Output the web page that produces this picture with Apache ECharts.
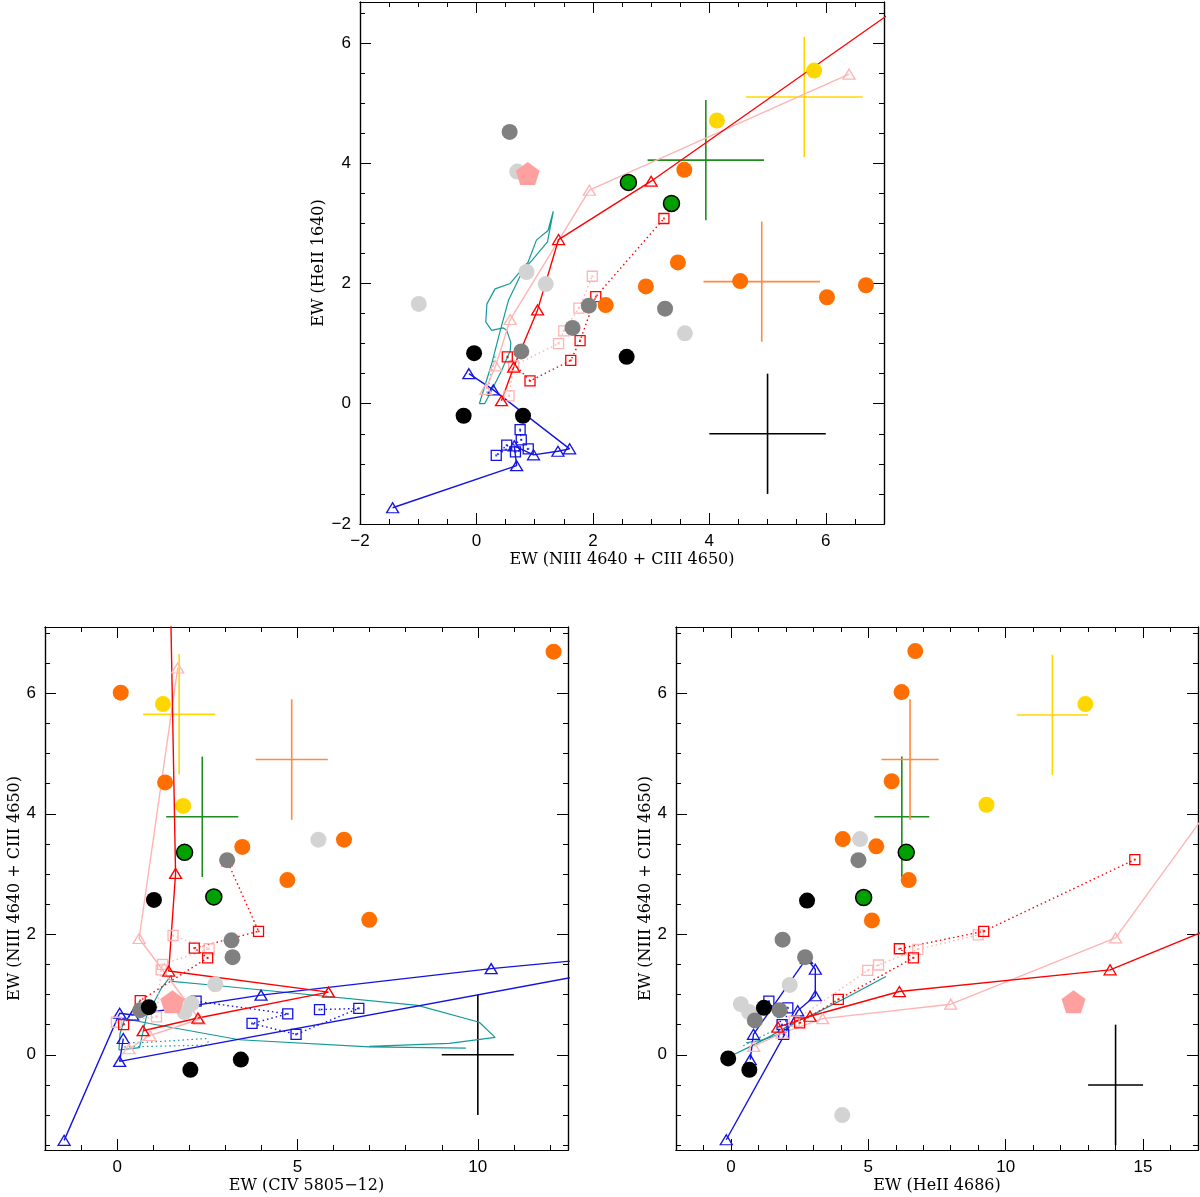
<!DOCTYPE html>
<html>
<head>
<meta charset="utf-8">
<script src="https://cdn.jsdelivr.net/npm/echarts@6/dist/echarts.min.js"></script>
<style>
html, body { margin: 0; padding: 0; background: #fff; }
#chart { width: 1200px; height: 1197px; }
</style>
</head>
<body>
<div id="chart"></div>
<script>
// ---------- top panel: x = EW(NIII 4640 + CIII 4650), y = EW(HeII 1640)
var topBlack = [[-0.04, 0.84], [-0.22, -0.2], [0.8, -0.2], [2.58, 0.78]];
var topDarkGray = [[0.57, 4.52], [0.77, 0.87], [1.65, 1.26], [1.93, 1.63], [3.24, 1.58]];
var topLightGray = [[-0.99, 1.66], [0.86, 2.19], [1.19, 1.99], [3.58, 1.17], [0.7, 3.86]];
var topOrange = [[3.57, 3.89], [3.46, 2.35], [2.91, 1.95], [2.22, 1.64], [4.53, 2.04], [6.02, 1.77], [6.69, 1.97]];
var topYellow = [[5.8, 5.54], [4.13, 4.71]];
var topGreen = [[2.61, 3.68], [3.35, 3.33]];
var topPenta = [[0.88, 3.83]];
// error crosses: [x, y, xerr, yerr]
var topCrossYellow = [5.63, 5.1, 1, 1];
var topCrossGreen = [3.94, 4.05, 1, 1];
var topCrossOrange = [4.9, 2.03, 1, 1];
var topCrossBlack = [5.0, -0.5, 1, 1];
// model tracks
var topRedTri = [[0.43, 0.05], [0.64, 0.61], [1.05, 1.56], [1.41, 2.73], [3.0, 3.7], [8.5, 7.44]];
var topPinkTri = [[0.16, 0.24], [0.33, 0.63], [0.58, 1.4], [1.94, 3.55], [6.4, 5.48]];
var topRedSq = [[0.53, 0.78], [0.92, 0.38], [1.62, 0.72], [1.78, 1.05], [2.05, 1.78], [3.22, 3.08]];
var topPinkSq = [[0.56, 0.13], [0.64, 0.63], [1.41, 1.0], [1.5, 1.21], [1.76, 1.59], [1.99, 2.12]];
var topBlueTri = [[-1.44, -1.73], [0.69, -1.03], [0.65, -0.7], [0.98, -0.85], [1.4, -0.79], [1.6, -0.75], [0.29, 0.23], [-0.13, 0.5]];
var topBlueSq = [[0.89, -0.75], [0.67, -0.8], [0.52, -0.69], [0.34, -0.86], [0.77, -0.6], [0.75, -0.43]];
var topTeal = [[0.05, 0.0], [0.14, 0.0], [0.26, 0.22], [0.43, 0.55], [0.58, 0.88], [0.59, 1.02], [0.52, 1.22],
  [0.46, 1.26], [0.26, 1.22], [0.16, 1.36], [0.18, 1.66], [0.32, 1.91], [0.58, 2.0], [0.89, 2.36], [1.03, 2.72],
  [1.23, 2.88], [1.32, 3.2], [1.22, 2.69], [0.95, 2.38], [0.81, 2.24], [0.55, 1.72], [0.41, 1.22], [0.26, 0.66],
  [0.12, 0.22], [0.05, 0.0]];
var topTealDot = [[0.18, 0.18], [0.32, 0.8]];

// ---------- bottom left: x = EW(CIV 5805-12), y = EW(NIII 4640 + CIII 4650)
var civBlack = [[1.02, 2.57], [0.88, 0.79], [2.03, -0.25], [3.43, -0.08]];
var civDarkGray = [[0.64, 0.74], [3.2, 1.62], [3.17, 1.9], [3.05, 3.23]];
var civLightGray = [[2.72, 1.17], [2.06, 0.85], [1.87, 0.71], [5.58, 3.57]];
var civOrange = [[0.1, 6.01], [12.1, 6.69], [1.33, 4.52], [3.47, 3.45], [6.29, 3.57], [4.72, 2.9], [6.99, 2.24]];
var civYellow = [[1.27, 5.82], [1.83, 4.13]];
var civGreen = [[1.87, 3.36], [2.68, 2.62]];
var civPenta = [[1.53, 0.88]];
var civCrossYellow = [1.72, 5.65, 1, 1];
var civCrossGreen = [2.36, 3.95, 1, 1];
var civCrossOrange = [4.84, 4.9, 1, 1];
var civCrossBlack = [10.0, 0.0, 1, 1];
var civRedTri = [[0.72, 0.4], [2.24, 0.61], [5.86, 1.04], [1.43, 1.39], [1.62, 3.01], [1.45, 8.5]];
var civPinkTri = [[0.33, 0.1], [0.91, 0.32], [2.28, 0.59], [0.61, 1.93], [1.68, 6.42]];
var civRedSq = [[0.18, 0.5], [0.64, 0.9], [2.51, 1.61], [2.14, 1.77], [3.92, 2.05], [3.05, 3.22]];
var civPinkSq = [[-0.02, 0.54], [1.09, 0.63], [1.22, 1.41], [1.26, 1.5], [2.55, 1.76], [1.55, 1.98]];
var civBlueTri = [[-1.47, -1.42], [0.07, 0.69], [0.43, 0.66], [3.99, 0.99], [10.37, 1.43], [17.7, 1.85], [0.07, -0.11], [0.17, 0.27]];
var civBlueSq = [[2.19, 0.89], [4.73, 0.68], [3.74, 0.52], [4.96, 0.34], [6.7, 0.77], [5.61, 0.75]];
var civTeal = [[9.67, 0.11], [6.99, 0.13], [3.39, 0.25], [0.9, 0.52], [0.21, 0.6], [0.08, 0.35], [0.05, 0.08],
  [0.62, 0.12], [0.81, 0.63], [1.22, 1.1], [1.5, 1.32], [1.52, 1.22], [2.75, 1.15], [8.33, 0.82], [10.04, 0.54],
  [10.48, 0.29], [9.21, 0.19], [6.99, 0.14]];
var civTealDot = [[0.2, 0.13], [0.9, 0.14], [2.5, 0.16], [2.52, 0.22], [2.47, 0.27], [0.9, 0.21], [0.3, 0.2]];

// ---------- bottom right: x = EW(HeII 4686), y = EW(NIII 4640 + CIII 4650)
var he2Black = [[2.77, 2.56], [1.2, 0.78], [-0.1, -0.06], [0.67, -0.25]];
var he2DarkGray = [[4.64, 3.23], [1.88, 1.91], [2.7, 1.62], [1.77, 0.74], [0.87, 0.57]];
var he2LightGray = [[4.7, 3.58], [2.14, 1.16], [0.36, 0.84], [0.66, 0.71], [4.05, -1.0]];
var he2Orange = [[6.71, 6.7], [6.21, 6.02], [5.85, 4.54], [4.07, 3.58], [5.29, 3.46], [6.47, 2.9], [5.13, 2.23]];
var he2Yellow = [[12.9, 5.82], [9.3, 4.15]];
var he2Green = [[6.38, 3.36], [4.83, 2.61]];
var he2Penta = [[12.47, 0.88]];
var he2CrossYellow = [11.7, 5.64, 1.3, 1];
var he2CrossOrange = [6.52, 4.9, 1.04, 1];
var he2CrossGreen = [6.22, 3.95, 1, 1];
var he2CrossBlack = [14.0, -0.5, 1, 1];
var he2RedTri = [[1.71, 0.46], [2.88, 0.64], [6.13, 1.05], [13.8, 1.41], [22.3, 3.0]];
var he2PinkTri = [[0.83, 0.14], [1.86, 0.36], [3.34, 0.6], [8.0, 0.84], [14.0, 1.94], [21.1, 6.4]];
var he2RedSq = [[2.5, 0.53], [3.91, 0.92], [6.64, 1.61], [6.13, 1.76], [9.2, 2.05], [14.7, 3.24]];
var he2PinkSq = [[2.3, 0.56], [4.98, 1.4], [5.37, 1.49], [6.8, 1.75], [9.0, 1.99]];
var he2BlueTri = [[-0.17, -1.41], [2.43, 0.73], [3.07, 0.98], [3.07, 1.42], [2.75, 1.6], [0.82, 0.34], [0.7, -0.08]];
var he2BlueSq = [[1.38, 0.89], [1.86, 0.5], [1.92, 0.34], [2.07, 0.78]];
var he2Teal = [[0.12, 0.01], [0.72, 0.14], [1.44, 0.31], [2.28, 0.53], [3.13, 0.7], [4.33, 0.98], [5.64, 1.3]];
var he2TealHook = [[0.55, 0.2], [1.1, 0.24], [1.7, 0.33], [2.3, 0.52]];
var he2TealDot = [[0.45, 0.15], [1.1, 0.3], [1.6, 0.42]];

var COL = {
  red: '#ff0000', pink: '#ffb4b4', blue: '#1414e0', teal: '#169999',
  orange: '#ff6e00', orangeX: '#ff8a40', yellow: '#ffd700', green: '#00a000',
  greenX: '#1e8c1e', dark: '#808080', light: '#d3d3d3', penta: '#ffa0a0', black: '#000000'
};

function ticks(min, max, step) {
  var out = [];
  for (var v = Math.ceil(min / step - 1e-9) * step; v <= max + 1e-9; v += step) {
    out.push(Math.round(v * 1000) / 1000);
  }
  return out;
}
function minus(v) { return v < 0 ? '\u2212' + Math.abs(v) : String(v); }

var grids = [], xAxes = [], yAxes = [], series = [];

// one axis of the frame; index 0 of each group of four carries the name
function axisCfg(gi, pos, s, major, withName) {
  var vals = ticks(s.min, s.max, major ? s.major : s.minor);
  var a = {
    type: 'value', gridIndex: gi, position: pos, min: s.min, max: s.max,
    axisLine: { show: true, onZero: false, lineStyle: { color: '#000', width: 1.2 } },
    axisTick: { show: true, inside: true, length: major ? 11 : 5, customValues: vals,
      lineStyle: { color: '#000', width: 1 } },
    axisLabel: { show: major && (pos === 'bottom' || pos === 'left'), customValues: vals,
      formatter: minus, fontFamily: 'Liberation Sans', fontSize: 17, color: '#000', margin: 9 },
    splitLine: { show: false }
  };
  if (withName) {
    a.name = s.name;
    a.nameLocation = 'middle';
    a.nameGap = s.gap;
    a.nameTextStyle = { fontFamily: 'DejaVu Serif', fontSize: 16, color: '#000' };
  }
  return a;
}

function addPanel(box, xs, ys) {
  var gi = grids.length;
  box.outerBoundsMode = 'none';
  grids.push(box);
  xAxes.push(axisCfg(gi, 'bottom', xs, false, true), axisCfg(gi, 'bottom', xs, true),
    axisCfg(gi, 'top', xs, false), axisCfg(gi, 'top', xs, true));
  yAxes.push(axisCfg(gi, 'left', ys, false, true), axisCfg(gi, 'left', ys, true),
    axisCfg(gi, 'right', ys, false), axisCfg(gi, 'right', ys, true));
  return gi;
}

function dots(gi, data, color, border) {
  series.push({
    type: 'scatter', xAxisIndex: gi * 4, yAxisIndex: gi * 4, data: data, silent: true, z: 5,
    symbol: 'circle', symbolSize: 16,
    itemStyle: { color: color, opacity: 1, borderColor: border || color, borderWidth: border ? 1.5 : 0 }
  });
}
function penta(gi, data) {
  series.push({
    type: 'scatter', xAxisIndex: gi * 4, yAxisIndex: gi * 4, data: data, silent: true, z: 6,
    symbol: 'path://M0,-1L0.951,-0.309L0.588,0.809L-0.588,0.809L-0.951,-0.309Z', symbolSize: [24, 23],
    itemStyle: { color: COL.penta, opacity: 1 }
  });
}
function track(gi, data, color, symbol, dotted, width) {
  series.push({
    type: 'line', xAxisIndex: gi * 4, yAxisIndex: gi * 4, data: data, silent: true, z: 3,
    symbol: symbol || 'none', showSymbol: !!symbol,
    symbolSize: symbol === 'triangle' ? [12, 10] : 10,
    lineStyle: { color: color, width: width || 1.4, type: dotted ? [1.5, 3] : 'solid' },
    itemStyle: { color: 'rgba(0,0,0,0)', borderColor: color, borderWidth: 1.3 }
  });
  if (symbol === 'rect') {
    series.push({
      type: 'scatter', xAxisIndex: gi * 4, yAxisIndex: gi * 4, data: data, silent: true, z: 3,
      symbol: 'rect', symbolSize: 2, itemStyle: { color: color }
    });
  }
}
function cross(gi, c, color) {
  series.push({
    type: 'custom', xAxisIndex: gi * 4, yAxisIndex: gi * 4, data: [c], silent: true, z: 2,
    renderItem: function (params, api) {
      var x = api.value(0), y = api.value(1), ex = api.value(2), ey = api.value(3);
      var l = api.coord([x - ex, y]), r = api.coord([x + ex, y]);
      var b = api.coord([x, y - ey]), t = api.coord([x, y + ey]);
      return { type: 'group', children: [
        { type: 'line', shape: { x1: l[0], y1: l[1], x2: r[0], y2: r[1] }, style: { stroke: color, lineWidth: 1.6 } },
        { type: 'line', shape: { x1: b[0], y1: b[1], x2: t[0], y2: t[1] }, style: { stroke: color, lineWidth: 1.6 } }
      ] };
    }
  });
}

// ---- panels
var niiiAxis = { min: -1.58, max: 7.1, major: 2, minor: 0.5, name: 'EW (NIII 4640 + CIII 4650)', gap: 22 };

var g0 = addPanel({ left: 360, top: 2, width: 524, height: 522 },
  { min: -2, max: 7, major: 2, minor: 0.5, name: 'EW (NIII 4640 + CIII 4650)', gap: 28 },
  { min: -2, max: 6.68, major: 2, minor: 0.5, name: 'EW (HeII 1640)', gap: 33 });
var g1 = addPanel({ left: 45, top: 627, width: 523, height: 523 },
  { min: -2, max: 12.5, major: 5, minor: 1, name: 'EW (CIV 5805\u221212)', gap: 28 }, niiiAxis);
var g2 = addPanel({ left: 676, top: 627, width: 522, height: 523 },
  { min: -2, max: 17, major: 5, minor: 1, name: 'EW (HeII 4686)', gap: 28 }, niiiAxis);

function fillPanel(gi, d) {
  cross(gi, d.cy, COL.yellow);
  cross(gi, d.cg, COL.greenX);
  cross(gi, d.co, COL.orangeX);
  cross(gi, d.cb, COL.black);
  d.teal.forEach(function (t) { track(gi, t, COL.teal, null, false, 1.2); });
  track(gi, d.tealDot, COL.teal, null, true, 1.2);
  track(gi, d.blueSq, COL.blue, 'rect', true);
  track(gi, d.blueTri, COL.blue, 'triangle', false);
  track(gi, d.pinkSq, COL.pink, 'rect', true);
  track(gi, d.pinkTri, COL.pink, 'triangle', false);
  track(gi, d.redSq, COL.red, 'rect', true);
  track(gi, d.redTri, COL.red, 'triangle', false);
  dots(gi, d.light, COL.light);
  dots(gi, d.dark, COL.dark);
  dots(gi, d.black, COL.black);
  dots(gi, d.orange, COL.orange);
  dots(gi, d.yellow, COL.yellow);
  dots(gi, d.green, COL.green, '#000');
  penta(gi, d.penta);
}

fillPanel(g0, { cy: topCrossYellow, cg: topCrossGreen, co: topCrossOrange, cb: topCrossBlack,
  teal: [topTeal], tealDot: topTealDot, blueSq: topBlueSq, blueTri: topBlueTri, pinkSq: topPinkSq,
  pinkTri: topPinkTri, redSq: topRedSq, redTri: topRedTri, light: topLightGray, dark: topDarkGray,
  black: topBlack, orange: topOrange, yellow: topYellow, green: topGreen, penta: topPenta });
fillPanel(g1, { cy: civCrossYellow, cg: civCrossGreen, co: civCrossOrange, cb: civCrossBlack,
  teal: [civTeal], tealDot: civTealDot, blueSq: civBlueSq, blueTri: civBlueTri, pinkSq: civPinkSq,
  pinkTri: civPinkTri, redSq: civRedSq, redTri: civRedTri, light: civLightGray, dark: civDarkGray,
  black: civBlack, orange: civOrange, yellow: civYellow, green: civGreen, penta: civPenta });
fillPanel(g2, { cy: he2CrossYellow, cg: he2CrossGreen, co: he2CrossOrange, cb: he2CrossBlack,
  teal: [he2Teal, he2TealHook], tealDot: he2TealDot, blueSq: he2BlueSq, blueTri: he2BlueTri, pinkSq: he2PinkSq,
  pinkTri: he2PinkTri, redSq: he2RedSq, redTri: he2RedTri, light: he2LightGray, dark: he2DarkGray,
  black: he2Black, orange: he2Orange, yellow: he2Yellow, green: he2Green, penta: he2Penta });

var chart = echarts.init(document.getElementById('chart'));
chart.setOption({
  backgroundColor: '#fff',
  animation: false,
  grid: grids,
  xAxis: xAxes,
  yAxis: yAxes,
  series: series
});
</script>
</body>
</html>
